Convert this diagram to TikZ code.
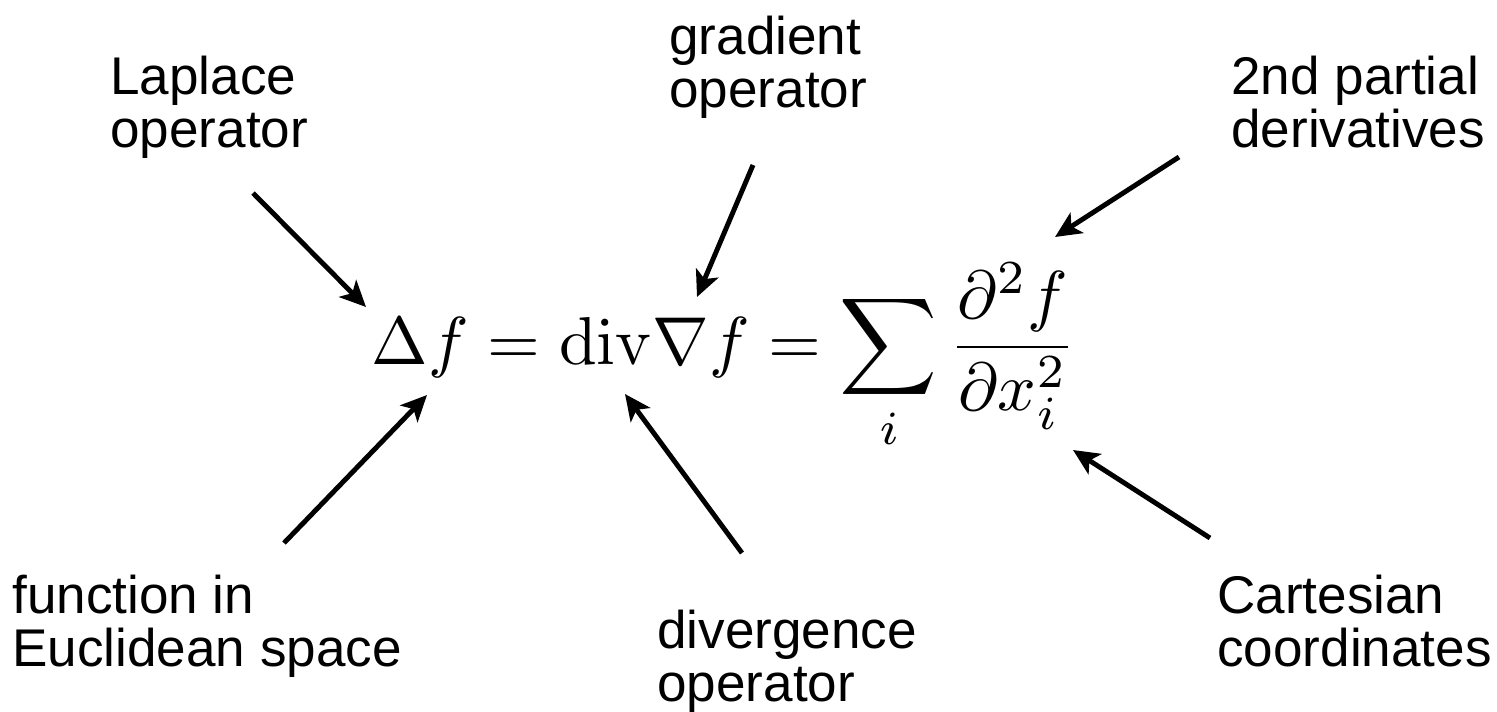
\documentclass[tikz,border=0pt]{standalone}
\usepackage[no-math]{fontspec}
\newfontfamily\labfont{Liberation Sans}
\usetikzlibrary{arrows.meta}
\tikzset{
  lab/.style={inner sep=0pt, anchor=north west, align=left,
    font=\labfont\fontsize{30.2}{30.2}\selectfont},
  pointer/.style={line width=2.8pt, -{Stealth[length=0.52cm,width=0.48cm,inset=0.13cm]}}
}
\begin{document}
\begin{tikzpicture}[x=0.02cm,y=-0.02cm]
\useasboundingbox (0,0) rectangle (1497,711);
\node[inner sep=0pt, anchor=base] (eq) at (724,364)
  {\scalebox{3.86}{$\displaystyle \Delta f = \mathrm{div}\nabla f = \sum_i \frac{\partial^2 f}{\partial x_i^2}$}};
\node[lab] (lap) at (110,56) {Laplace\\operator};
\node[lab] (grad) at (669,16) {gradient\\operator};
\node[lab] (part) at (1231,56) {2nd partial\\derivatives};
\node[lab] (func) at (12,575) {function in\\Euclidean space};
\node[lab] (divg) at (657,610) {divergence\\operator};
\node[lab] (cart) at (1217,575) {Cartesian\\coordinates};
\coordinate (lapS) at (253,193);  \coordinate (lapE) at (366,307);
\coordinate (gradS) at (753,165); \coordinate (gradE) at (697,297);
\coordinate (partS) at (1179,157); \coordinate (partE) at (1055,237);
\coordinate (funcS) at (284,543); \coordinate (funcE) at (427,395);
\coordinate (divgS) at (742,553); \coordinate (divgE) at (625,394);
\coordinate (cartS) at (1210,538); \coordinate (cartE) at (1073,450);
\draw[pointer] (lapS) -- (lapE);
\draw[pointer] (gradS) -- (gradE);
\draw[pointer] (partS) -- (partE);
\draw[pointer] (funcS) -- (funcE);
\draw[pointer] (divgS) -- (divgE);
\draw[pointer] (cartS) -- (cartE);
\end{tikzpicture}
\end{document}
